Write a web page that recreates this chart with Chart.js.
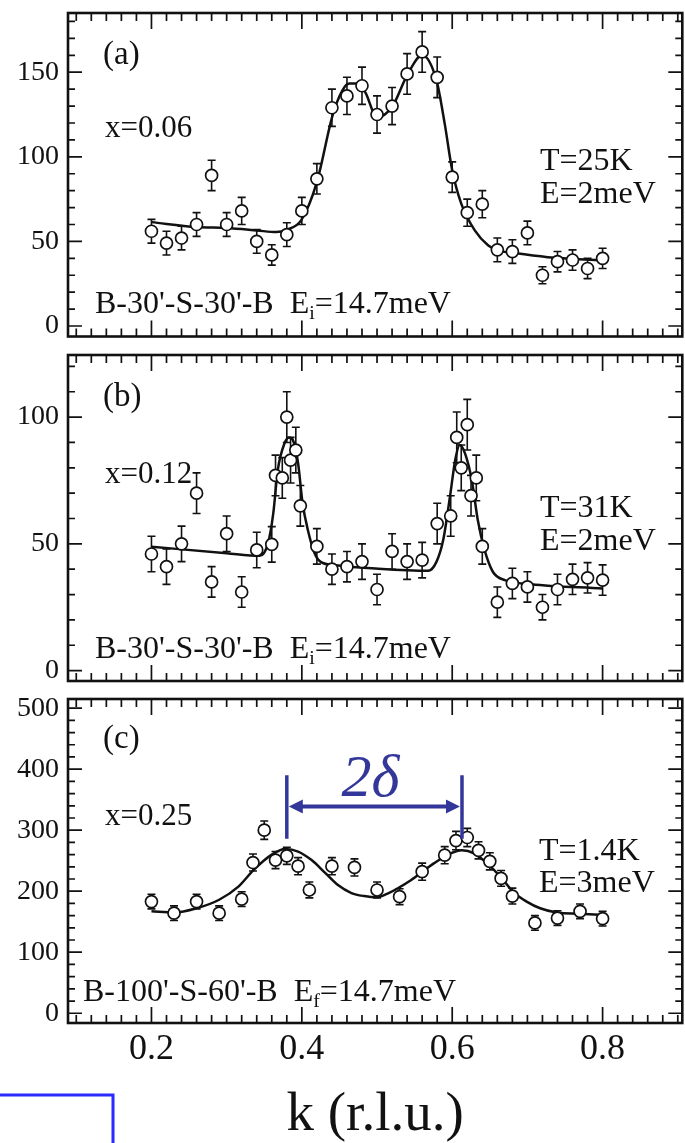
<!DOCTYPE html>
<html>
<head>
<meta charset="utf-8">
<script src="https://cdn.jsdelivr.net/npm/chart.js@4.4.0/dist/chart.umd.min.js"></script>
<style>
  html, body { margin: 0; padding: 0; background: #fff; overflow: hidden; }
  #wrap { position: relative; width: 685px; height: 1143px; overflow: hidden; }
  canvas { position: absolute; left: 0; }
</style>
</head>
<body>
<div id="wrap">
  <canvas id="chartA" width="690" height="345" style="top:0"></canvas>
  <canvas id="chartB" width="690" height="345" style="top:345px"></canvas>
  <canvas id="chartC" width="690" height="453" style="top:690px"></canvas>
</div>
<script>
const SERIF = '"Liberation Serif", "DejaVu Serif", serif';
const INK = '#111';
const BLUE = '#34379a';

// shared k axis
const kTicks = [0.2, 0.4, 0.6, 0.8];
const kRange = [0.089, 0.906];

// (a) x=0.06, T=25K
const kA = [0.20, 0.22, 0.24, 0.26, 0.28, 0.30, 0.32, 0.34, 0.36, 0.38, 0.40, 0.42, 0.44, 0.46, 0.48, 0.50,
            0.52, 0.54, 0.56, 0.58, 0.60, 0.62, 0.64, 0.66, 0.68, 0.70, 0.72, 0.74, 0.76, 0.78, 0.80];
const countsA = [56, 49, 52, 60, 89, 60, 68, 50, 42, 54, 68, 87, 129, 136, 142, 125,
                 130, 149, 162, 147, 88, 67, 72, 45, 44, 55, 30, 38, 39, 34, 40];
const errA = [7, 7, 7, 7, 9, 7, 8, 7, 6, 7, 8, 9, 11, 11, 11, 11,
              11, 12, 12, 12, 9, 8, 8, 7, 7, 7, 5, 6, 6, 6, 6];
const fitKA = [0.20, 0.26, 0.30, 0.34, 0.366, 0.38, 0.399, 0.42, 0.441, 0.454, 0.463, 0.472, 0.48, 0.485,
               0.50, 0.52, 0.54, 0.56, 0.579, 0.59, 0.60, 0.612, 0.63, 0.648, 0.661, 0.683, 0.727, 0.80];
const fitA = [61.4, 58.5, 57.9, 56.5, 55.5, 56.9, 62.4, 85.1, 124.6, 139.3, 143.3, 143.3, 141.3, 137.6,
              123.5, 129.5, 148.2, 160, 145.3, 119.6, 92, 72.3, 56.5, 47.6, 44.7, 43.1, 40.7, 38.8];
const yTicksA = [0, 50, 100, 150];

// (b) x=0.12, T=31K
const kB = [0.20, 0.22, 0.24, 0.26, 0.28, 0.30, 0.32, 0.34, 0.36, 0.365, 0.374, 0.38, 0.385, 0.392, 0.398,
            0.42, 0.44, 0.46, 0.48, 0.50, 0.52, 0.54, 0.56, 0.58, 0.598, 0.606, 0.612, 0.62, 0.625, 0.632,
            0.64, 0.66, 0.68, 0.70, 0.72, 0.74, 0.76, 0.78, 0.80];
const countsB = [46, 41, 50, 70, 35, 54, 31, 47.6, 49.8, 77, 76, 100, 83, 87, 65,
                 49, 40, 41, 43, 32, 47, 43, 43.6, 58, 61, 92, 80, 97, 69, 76,
                 49, 27, 34.4, 33, 25, 32, 36, 36.6, 35.7];
const errB = [7, 7, 7, 8, 6, 7, 6, 7, 7, 8, 8, 10, 9, 9, 8,
              7, 6, 6, 7, 6, 7, 7, 7, 8, 8, 10, 9, 10, 8, 9,
              7, 6, 6, 6, 5, 6, 6, 6, 6];
const fitKB = [0.20, 0.30, 0.344, 0.355, 0.362, 0.368, 0.377, 0.383, 0.388, 0.395, 0.401, 0.408, 0.417, 0.425,
               0.445, 0.498, 0.568, 0.579, 0.588, 0.597, 0.604, 0.610, 0.617, 0.626, 0.634, 0.643, 0.654,
               0.670, 0.705, 0.80];
const fitB = [48.9, 46.3, 45.3, 50.2, 62, 79.1, 89.7, 92, 91, 81.8, 66, 55.5, 46.3, 42.9,
              41.6, 40.3, 39.4, 42.9, 51.5, 68.6, 83.1, 89, 85.7, 75.2, 59.4, 47.6, 39,
              35.7, 34.1, 32.4];
const yTicksB = [0, 50, 100];

// (c) x=0.25, T=1.4K
const kC = [0.20, 0.23, 0.26, 0.29, 0.32, 0.335, 0.35, 0.365, 0.38, 0.395, 0.41, 0.44, 0.47, 0.50,
            0.53, 0.56, 0.59, 0.605, 0.62, 0.635, 0.65, 0.665, 0.68, 0.71, 0.74, 0.77, 0.80];
const countsC = [183, 164, 183, 164, 187, 247, 300, 251, 258, 241, 202, 241, 239, 202,
                 191, 232, 259, 283, 288, 267, 249, 221, 192, 148, 156, 167, 155];
const errC = [12, 12, 12, 12, 12, 14, 15, 14, 14, 14, 13, 14, 14, 13,
              13, 14, 14, 15, 15, 14, 14, 13, 13, 12, 12, 12, 12];
const fitKC = [0.20, 0.23, 0.26, 0.29, 0.316, 0.336, 0.36, 0.378, 0.395, 0.413, 0.431, 0.448, 0.466, 0.483,
               0.50, 0.514, 0.545, 0.576, 0.598, 0.613, 0.629, 0.646, 0.664, 0.681, 0.699, 0.717, 0.739,
               0.769, 0.80];
const fitC = [167, 165, 172, 186, 208, 235, 260, 269, 265, 251, 230, 210, 197, 192,
              190, 196, 218, 246, 262, 267, 262, 246, 224, 199, 183, 172, 165, 163, 161];
const yTicksC = [0, 100, 200, 300, 400, 500];

// incommensurate peak positions marked in (c)
const deltaK = [0.38, 0.613];
const deltaSpan = [286, 390];
const deltaArrow = 339;

function toXY(xs, ys) {
  return xs.map((x, i) => ({ x, y: ys[i] }));
}

const errorBars = {
  id: 'errorBars',
  beforeDatasetsDraw(chart) {
    const { ctx, scales: { x, y } } = chart;
    chart.data.datasets.forEach(ds => {
      if (!ds.errors) return;
      ctx.save();
      ctx.strokeStyle = INK;
      ctx.lineWidth = 1.6;
      ctx.beginPath();
      ds.data.forEach((p, i) => {
        const px = x.getPixelForValue(p.x);
        const top = y.getPixelForValue(p.y + ds.errors[i]);
        const bot = y.getPixelForValue(p.y - ds.errors[i]);
        ctx.moveTo(px, top); ctx.lineTo(px, bot);
        ctx.moveTo(px - 4, top); ctx.lineTo(px + 4, top);
        ctx.moveTo(px - 4, bot); ctx.lineTo(px + 4, bot);
      });
      ctx.stroke();
      ctx.restore();
    });
  }
};

// box with inward ticks on all four sides
const frame = {
  id: 'frame',
  afterDraw(chart, args, o) {
    const { ctx, chartArea: a, scales: { x, y } } = chart;
    ctx.save();
    ctx.strokeStyle = INK;
    ctx.lineWidth = 1.7;
    ctx.beginPath();
    for (let i = 0; i <= 40; i++) {
      const k = Math.round((0.1 + i * 0.02) * 100) / 100;
      if (k < x.min || k > x.max) continue;
      const len = kTicks.includes(k) ? 16 : 8;
      const px = x.getPixelForValue(k);
      ctx.moveTo(px, a.bottom); ctx.lineTo(px, a.bottom - len);
      ctx.moveTo(px, a.top); ctx.lineTo(px, a.top + len);
    }
    for (let v = 0; v <= y.max; v += o.minor) {
      const len = o.ticks.includes(v) ? 14 : 7;
      const py = y.getPixelForValue(v);
      ctx.moveTo(a.left, py); ctx.lineTo(a.left + len, py);
      ctx.moveTo(a.right, py); ctx.lineTo(a.right - len, py);
    }
    ctx.stroke();
    ctx.lineWidth = 2.6;
    ctx.strokeRect(a.left, a.top, a.right - a.left, a.bottom - a.top);
    ctx.restore();
  }
};

// panel captions, with optional subscript pieces
const notes = {
  id: 'notes',
  afterDraw(chart, args, o) {
    const ctx = chart.ctx;
    ctx.save();
    ctx.fillStyle = INK;
    ctx.textBaseline = 'alphabetic';
    ctx.textAlign = 'left';
    o.items.forEach(n => {
      let x = n.x;
      n.parts.forEach(p => {
        const size = p.sub ? n.size * 0.62 : n.size;
        ctx.font = size + 'px ' + SERIF;
        ctx.fillText(p.t, x, n.y + (p.sub ? n.size * 0.2 : 0));
        x += ctx.measureText(p.t).width;
      });
    });
    ctx.restore();
  }
};

// 2δ bracket between the two peaks of (c), plus the corner outline
const deltaMark = {
  id: 'deltaMark',
  afterDraw(chart) {
    const { ctx, scales: { x, y } } = chart;
    const x1 = x.getPixelForValue(deltaK[0]);
    const x2 = x.getPixelForValue(deltaK[1]);
    const yTop = y.getPixelForValue(deltaSpan[1]);
    const yBot = y.getPixelForValue(deltaSpan[0]);
    const ya = y.getPixelForValue(deltaArrow);
    ctx.save();
    ctx.strokeStyle = BLUE;
    ctx.fillStyle = BLUE;
    ctx.lineWidth = 3.5;
    ctx.beginPath();
    ctx.moveTo(x1, yTop); ctx.lineTo(x1, yBot);
    ctx.moveTo(x2, yTop); ctx.lineTo(x2, yBot);
    ctx.stroke();
    ctx.lineWidth = 4;
    ctx.beginPath();
    ctx.moveTo(x1 + 10, ya); ctx.lineTo(x2 - 10, ya);
    ctx.stroke();
    ctx.beginPath();
    ctx.moveTo(x1 + 2, ya); ctx.lineTo(x1 + 16, ya - 7); ctx.lineTo(x1 + 16, ya + 7); ctx.closePath();
    ctx.moveTo(x2 - 2, ya); ctx.lineTo(x2 - 16, ya - 7); ctx.lineTo(x2 - 16, ya + 7); ctx.closePath();
    ctx.fill();
    ctx.font = 'italic 60px ' + SERIF;
    ctx.textAlign = 'center';
    ctx.textBaseline = 'alphabetic';
    ctx.fillText('2δ', (x1 + x2) / 2 - 4, ya - 10);

    ctx.strokeStyle = '#2b2bff';
    ctx.lineWidth = 3;
    ctx.beginPath();
    ctx.moveTo(0, 405); ctx.lineTo(113, 405); ctx.lineTo(113, 460);
    ctx.stroke();
    ctx.restore();
  }
};

function makePanel(id, p) {
  const xAxis = {
    type: 'linear',
    min: kRange[0],
    max: kRange[1],
    display: p.showK,
    afterBuildTicks: s => { s.ticks = kTicks.map(v => ({ value: v })); },
    afterFit: s => {
      if (p.showK) s.height = 120;
      s.paddingLeft = 0;
      s.paddingRight = 0;
    },
    grid: { display: false, drawTicks: false },
    border: { display: false },
    ticks: {
      font: { family: SERIF, size: 36 }, color: INK, padding: 5,
      maxRotation: 0, autoSkip: false, callback: v => v.toFixed(1)
    },
    title: {
      display: true, text: 'k (r.l.u.)', color: INK,
      font: { family: SERIF, size: 55, lineHeight: 1 }, padding: { top: 0, bottom: 0 }
    }
  };
  return new Chart(document.getElementById(id), {
    type: 'scatter',
    data: {
      datasets: [
        {
          data: toXY(p.k, p.counts),
          errors: p.err,
          pointRadius: 6,
          pointHoverRadius: 6,
          pointBorderWidth: 1.7,
          pointBackgroundColor: '#fff',
          pointBorderColor: INK,
          order: 0
        },
        {
          type: 'line',
          data: toXY(p.fitK, p.fit),
          showLine: true,
          borderColor: INK,
          borderWidth: 2.5,
          pointRadius: 0,
          cubicInterpolationMode: 'monotone',
          fill: false,
          order: 1
        }
      ]
    },
    options: {
      responsive: false,
      animation: false,
      events: [],
      layout: { padding: p.pad },
      scales: {
        x: xAxis,
        y: {
          type: 'linear',
          min: p.yRange[0],
          max: p.yRange[1],
          afterBuildTicks: s => { s.ticks = p.yTicks.map(v => ({ value: v })); },
          afterFit: s => { s.width = 68; s.paddingTop = 0; s.paddingBottom = 0; },
          grid: { display: false, drawTicks: false },
          border: { display: false },
          ticks: { font: { family: SERIF, size: 28 }, color: INK, padding: 9 }
        }
      },
      plugins: {
        legend: { display: false },
        tooltip: { enabled: false },
        frame: { minor: p.minor, ticks: p.yTicks },
        notes: { items: p.notes }
      }
    },
    plugins: p.extra ? [errorBars, frame, notes, p.extra] : [errorBars, frame, notes]
  });
}

makePanel('chartA', {
  k: kA, counts: countsA, err: errA, fitK: fitKA, fit: fitA,
  yTicks: yTicksA, yRange: [-6.2, 185], minor: 10, showK: false,
  pad: { top: 13, bottom: 8.5, left: 0, right: 3 },
  notes: [
    { x: 103, y: 64, size: 33, parts: [{ t: '(a)' }] },
    { x: 105, y: 137, size: 31, parts: [{ t: 'x=0.06' }] },
    { x: 540, y: 170, size: 32, parts: [{ t: 'T=25K' }] },
    { x: 540, y: 203, size: 32, parts: [{ t: 'E=2meV' }] },
    { x: 95, y: 313, size: 32, parts: [{ t: "B-30'-S-30'-B  E" }, { t: 'i', sub: true }, { t: '=14.7meV' }] }
  ]
});

makePanel('chartB', {
  k: kB, counts: countsB, err: errB, fitK: fitKB, fit: fitB,
  yTicks: yTicksB, yRange: [-4.1, 124.5], minor: 10, showK: false,
  pad: { top: 10, bottom: 9, left: 0, right: 3 },
  notes: [
    { x: 103, y: 61, size: 33, parts: [{ t: '(b)' }] },
    { x: 105, y: 138, size: 31, parts: [{ t: 'x=0.12' }] },
    { x: 540, y: 172, size: 32, parts: [{ t: 'T=31K' }] },
    { x: 540, y: 205, size: 32, parts: [{ t: 'E=2meV' }] },
    { x: 95, y: 313, size: 32, parts: [{ t: "B-30'-S-30'-B  E" }, { t: 'i', sub: true }, { t: '=14.7meV' }] }
  ]
});

makePanel('chartC', {
  k: kC, counts: countsC, err: errC, fitK: fitKC, fit: fitC,
  yTicks: yTicksC, yRange: [-16, 515], minor: 20, showK: true,
  pad: { top: 9, bottom: 0, left: 0, right: 3 },
  extra: deltaMark,
  notes: [
    { x: 103, y: 58, size: 33, parts: [{ t: '(c)' }] },
    { x: 105, y: 135, size: 31, parts: [{ t: 'x=0.25' }] },
    { x: 539, y: 170, size: 32, parts: [{ t: 'T=1.4K' }] },
    { x: 539, y: 202, size: 32, parts: [{ t: 'E=3meV' }] },
    { x: 83, y: 311, size: 32, parts: [{ t: "B-100'-S-60'-B  E" }, { t: 'f', sub: true }, { t: '=14.7meV' }] }
  ]
});
</script>
</body>
</html>
